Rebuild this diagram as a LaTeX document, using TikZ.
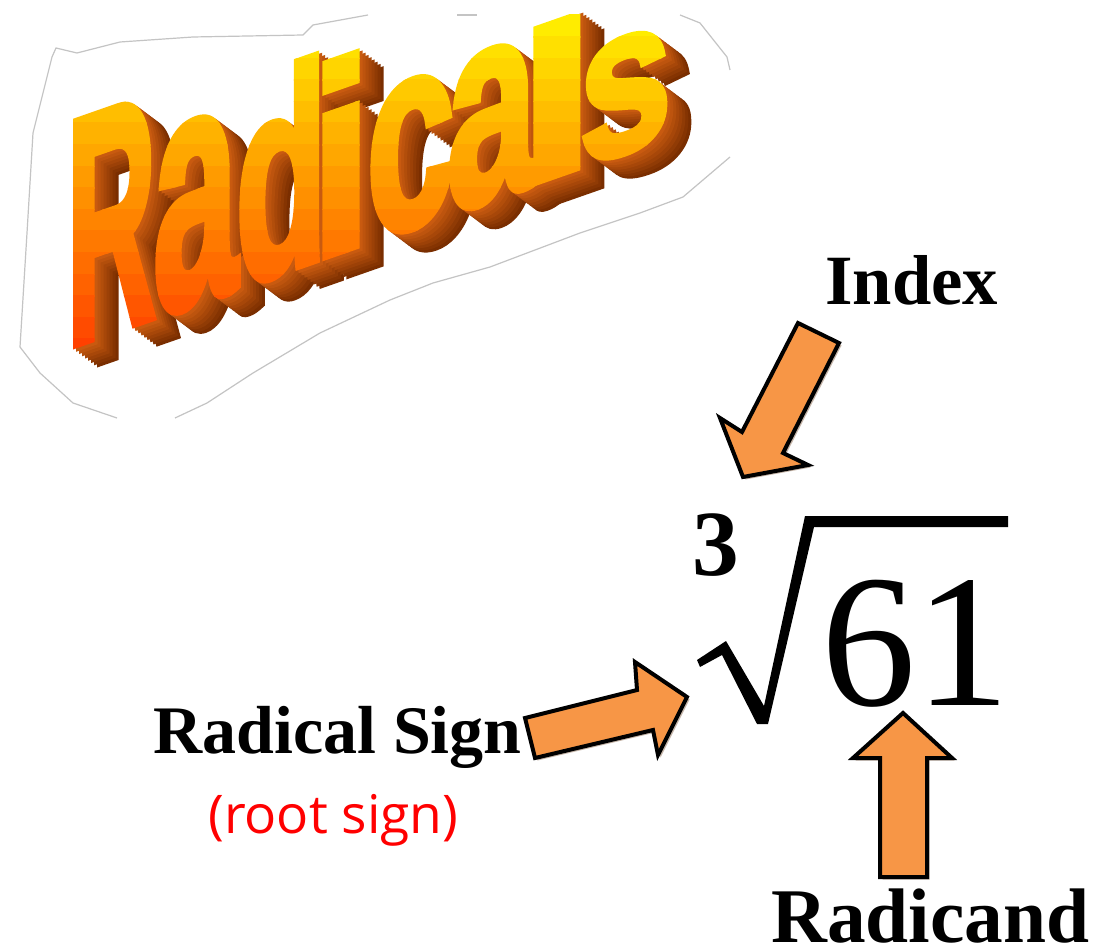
\documentclass[tikz,border=0pt]{standalone}
\usepackage{fontspec}
\usepackage{graphicx}
\setmainfont{Liberation Serif}
\newfontfamily\radfont{Liberation Sans}[BoldFeatures={FakeBold=3}]
\newfontfamily\handfont{Open Sans}
\definecolor{arroworange}{HTML}{F79646}
\definecolor{shadowbrown}{HTML}{8B6A50}
\definecolor{extdark}{HTML}{7A2E00}
\definecolor{extlight}{HTML}{C85A10}
\definecolor{blobgray}{HTML}{C4C4C4}
\newcommand\radword{\fontsize{100}{100}\selectfont\radfont\bfseries
\rlap{\hspace*{-7.0pt}\scalebox{0.93}[2.41]{R}}%
\rlap{\hspace*{57.9pt}\scalebox{1.14}[2.52]{a}}%
\rlap{\hspace*{119.6pt}\scalebox{1.13}[2.11]{d}}%
\rlap{\hspace*{175.6pt}\scalebox{1.67}[1.99]{i}}%
\rlap{\hspace*{218.0pt}\scalebox{1.19}[2.03]{c}}%
\rlap{\hspace*{278.2pt}\scalebox{1.21}[2.07]{a}}%
\rlap{\hspace*{331.5pt}\scalebox{2.11}[1.59]{l}}%
\rlap{\hspace*{377.3pt}\scalebox{1.25}[1.59]{s}}}
\tikzset{
  blockarrow/.style={fill=arroworange, draw=black, line width=3pt, line join=miter},
  arrowshadow/.style={fill=shadowbrown, opacity=0.5},
  label/.style={anchor=base west, inner sep=0, font=\bfseries},
  blob/.style={draw=blobgray, line width=0.9pt},
  wordart/.style={transform shape, inner sep=0, anchor=base west}
}
\begin{document}
\begin{tikzpicture}[x=0.75pt, y=-0.75pt]
\useasboundingbox (0,0) rectangle (1099,948);
\fill[white] (0,0) rectangle (1099,948);
% cut-out outline of the word art
\draw[blob] (368,15) -- (313,25) -- (303,35) -- (193,37) -- (120,42) -- (77,53) -- (56,48) -- (52,57) -- (33,133) -- (27,233) -- (20,347) -- (40,373) -- (73,403) -- (117,418);
\draw[blob] (175,418) -- (207,403) -- (253,373) -- (320,333) -- (390,300) -- (433,283) -- (490,267) -- (580,233) -- (640,213) -- (683,197) -- (730,157);
\draw[blob] (457,15) -- (477,15);
\draw[blob] (680,15) -- (700,23) -- (727,57) -- (730,70);
% word art: extrusion
\foreach \t [evaluate=\t as \p using {(\t-1)*100/7}] in {8,7,...,1}{
  \begin{scope}[shift={(75+3*\t,344+2.25*\t)}, yslant=0.35]
    \node[wordart, text=extdark!\p!extlight] (ext\t) at (0,0) {\radword};
  \end{scope}}
% word art: front face, vertical gradient in bands
\foreach \k in {0,...,15}{
  \pgfmathsetmacro\ya{15+\k*21.6}
  \pgfmathtruncatemacro\g{236-172*\k/15}
  \definecolor{bandc}{RGB}{255,\g,0}
  \begin{scope}
    \clip (30,\ya) rectangle (740,\ya+22.2);
    \begin{scope}[shift={(75,344)}, yslant=0.35]
      \node[wordart, text=bandc] (band\k) at (0,0) {\radword};
    \end{scope}
  \end{scope}}
% labels
\node[label, font=\bfseries\fontsize{53}{53}\selectfont] (index) at (825,305) {Index};
\node[label, font=\bfseries\fontsize{51}{51}\selectfont] (sign) at (153,753) {Radical Sign};
\node[label, font=\bfseries\fontsize{58}{58}\selectfont] (radicand) at (771,942) {Radicand};
\node[anchor=base west, inner sep=0, text=red, font=\handfont\fontsize{40}{40}\selectfont] (hand) at (208,833) {(root sign)};
% the radical
\node[label, font=\bfseries\fontsize{70}{70}\selectfont] (three) at (692,575) {3};
\fill[black] (697,660) -- (726,641) -- (764,706) -- (805,516) -- (1008,516) -- (1008,527) -- (814,527) -- (768,724) -- (757,724) -- (722,655) -- (700,667) -- cycle;
\node[anchor=base west, inner sep=0, font=\fontsize{142}{142}\selectfont] (num) at (821,705) {61};
% block arrows
\begin{scope}[shift={(2.5,2.5)}]
\fill[arrowshadow] (798,323) -- (839,343) -- (783,453) -- (808,465) -- (743,477) -- (720,418) -- (742,432) -- cycle;
\fill[arrowshadow] (525,718) -- (637,690) -- (635,662) -- (687,697) -- (658,755) -- (653,730) -- (535,758) -- cycle;
\fill[arrowshadow] (903,713) -- (952,758) -- (927,758) -- (927,877) -- (880,877) -- (880,758) -- (853,758) -- cycle;
\end{scope}
\draw[blockarrow] (798,323) coordinate (ia) -- (839,343) -- (783,453) -- (808,465) -- (743,477) coordinate (itip) -- (720,418) -- (742,432) -- cycle;
\draw[blockarrow] (525,718) coordinate (sa) -- (637,690) -- (635,662) -- (687,697) coordinate (stip) -- (658,755) -- (653,730) -- (535,758) -- cycle;
\draw[blockarrow] (903,713) coordinate (rtip) -- (952,758) -- (927,758) -- (927,877) -- (880,877) -- (880,758) -- (853,758) -- cycle;
\end{tikzpicture}
\end{document}
